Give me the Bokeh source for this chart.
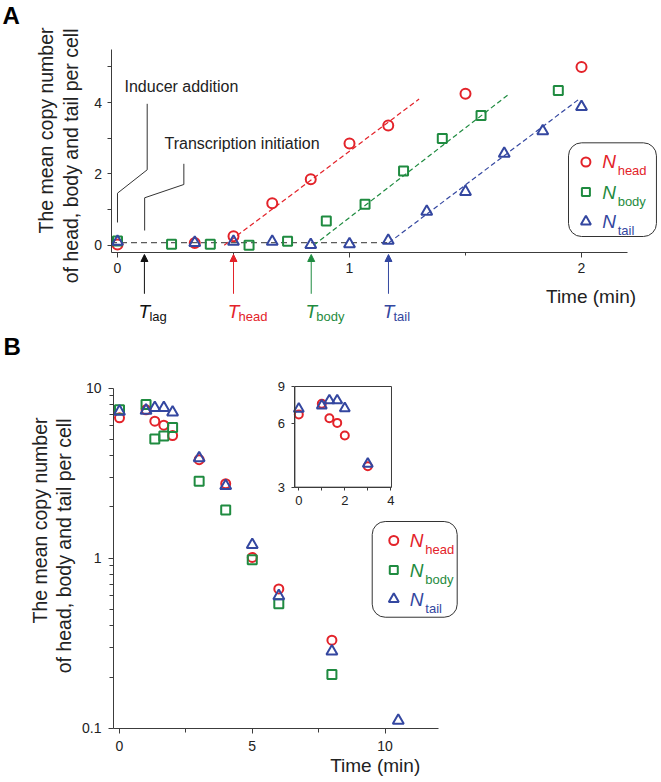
import math
from bokeh.plotting import figure
from bokeh.layouts import column
from bokeh.models import (Range1d, FixedTicker, Label, Arrow, NormalHead, BoxAnnotation,
                          LinearAxis, LogAxis, LogScale, PrintfTickFormatter)
from bokeh.embed import file_html
from bokeh.resources import INLINE

FONT = "Liberation Sans"
RED = "#E3232A"
GREEN = "#1F8B40"
BLUE = "#3447A0"
INK = "#222222"
AXC = "#3c3c3c"

# ---------------- Panel A data (time in min, mean copy number per cell) ----------------
a_t_head = [0.0, 0.333, 0.5, 0.667, 0.833, 1.0, 1.167, 1.5, 2.0]
a_head = [0.02, 0.06, 0.25, 1.18, 1.85, 2.85, 3.36, 4.25, 5.0]
a_t_body = [0.0, 0.233, 0.4, 0.567, 0.733, 0.9, 1.067, 1.233, 1.4, 1.567, 1.9]
a_body = [0.12, 0.03, 0.03, 0.0, 0.11, 0.68, 1.15, 2.08, 2.99, 3.64, 4.34]
a_t_tail = [0.0, 0.333, 0.5, 0.667, 0.833, 1.0, 1.167, 1.333, 1.5, 1.667, 1.833, 2.0]
a_tail = [0.1, 0.07, 0.1, 0.1, 0.01, 0.03, 0.13, 0.94, 1.5, 2.57, 3.2, 3.88]

a_baseline_t = [-0.028, 1.17]
a_baseline_v = [0.07, 0.07]
a_fit_head_t = [0.46, 1.30]
a_fit_head_v = [0.0, 4.1]
a_fit_body_t = [0.846, 1.69]
a_fit_body_v = [0.0, 4.25]
a_fit_tail_t = [1.17, 1.99]
a_fit_tail_v = [0.07, 4.1]

a_T_names = ["lag", "head", "body", "tail"]
a_T_values = [0.116, 0.5, 0.835, 1.168]

a_callout_inducer_t = [0.0, 0.0, 0.128, 0.128]
a_callout_inducer_v = [0.637, 1.459, 2.115, 3.966]
a_callout_tx_t = [0.117, 0.117, 0.286, 0.286]
a_callout_tx_v = [0.412, 1.33, 1.703, 2.283]

a_xticks = [0, 1, 2]
a_xminor = [0.5, 1.5]
a_yticks = [0, 2, 4]
a_yminor = [1, 3, 5]

# ---------------- Panel B data ----------------
b_t = [0, 1, 1.33, 1.67, 2, 3, 4, 5, 6, 8]
b_head = [6.68, 7.45, 6.38, 6.05, 5.26, 3.79, 2.74, 1.01, 0.66, 0.33]
b_body = [7.45, 8.0, 5.02, 5.22, 5.86, 2.83, 1.92, 0.98, 0.54, 0.207]
b_t_tail = [0, 1, 1.33, 1.67, 2, 3, 4, 5, 6, 8, 10.5]
b_tail = [7.28, 7.38, 7.65, 7.65, 7.2, 3.87, 2.66, 1.2, 0.60, 0.284, 0.111]

inset_t = [0, 1, 1.33, 1.67, 2, 3]
inset_head = [6.63, 7.45, 6.36, 6.05, 5.27, 3.77]
inset_tail = [7.05, 7.31, 7.73, 7.73, 7.1, 3.87]

b_xticks = [0, 5, 10]
b_xminor = [2.5, 7.5]
b_yticks = [0.1, 1, 10]
b_yminor = [0.2, 0.3, 0.4, 0.5, 0.6, 0.7, 0.8, 0.9, 2, 3, 4, 5, 6, 7, 8, 9]
inset_xticks = [0, 2, 4]
inset_xminor = [1, 3]
inset_yticks = [3, 6, 9]

SERIES = [("circle", RED, "head"), ("square", GREEN, "body"), ("triangle", BLUE, "tail")]


def style_axis(ax, size="14px", major_out=5, minor_out=3, standoff=5):
    ax.axis_line_color = AXC
    ax.axis_line_width = 1
    ax.major_tick_line_color = AXC
    ax.minor_tick_line_color = AXC
    ax.major_tick_in = 0
    ax.major_tick_out = major_out
    ax.minor_tick_in = 0
    ax.minor_tick_out = minor_out
    ax.major_label_text_font = FONT
    ax.major_label_text_font_size = size
    ax.major_label_text_color = INK
    ax.major_label_standoff = standoff


def text(p, x, y, s, size, color=INK, style="normal", align="left", baseline="middle",
         angle=0.0, xo=0, yo=0, **kw):
    p.add_layout(Label(x=x, y=y, text=s, text_font=FONT, text_font_size=size,
                       text_color=color, text_font_style=style, text_align=align,
                       text_baseline=baseline, angle=angle, x_offset=xo, y_offset=yo, **kw))


def rounded_box(p, left, right, bottom, top):
    kw = dict(left=left, right=right, bottom=bottom, top=top, fill_color=None,
              line_color="#333333", line_alpha=1.0, line_width=1)
    if "border_radius" in BoxAnnotation.properties():
        kw["border_radius"] = 13
    p.add_layout(BoxAnnotation(**kw))


def legend(p, box, mx, rows, tx, sizes):
    rounded_box(p, *box)
    for (marker, color, name), ry, sz in zip(SERIES, rows, sizes):
        p.scatter([mx], [ry], marker=marker, size=sz, line_color=color, line_width=2,
                  fill_color=None)
        text(p, tx, ry, "N", "19px", color=color, style="italic", yo=0)
        text(p, tx, ry, name, "13px", color=color, xo=15.5, yo=-9)


# =============================== Panel A ===============================
pA = figure(width=661, height=328, x_range=Range1d(-0.5043, 2.3448),
            y_range=Range1d(-2.3366, 6.864), output_backend="svg",
            toolbar_location=None, min_border=0)
pA.grid.visible = False
pA.outline_line_color = None
pA.background_fill_color = "white"

pA.xaxis.fixed_location = -0.2
pA.xaxis.bounds = (-0.028, 2.2)
pA.xaxis.ticker = FixedTicker(ticks=a_xticks, minor_ticks=a_xminor)
pA.yaxis.fixed_location = -0.028
pA.yaxis.bounds = (-0.2, 5.5)
pA.yaxis.ticker = FixedTicker(ticks=a_yticks, minor_ticks=a_yminor)
for ax in pA.xaxis:
    style_axis(ax, major_out=5, minor_out=3, standoff=6)
for ax in pA.yaxis:
    style_axis(ax, major_out=4, minor_out=4, standoff=5)

pA.line(a_baseline_t, a_baseline_v, line_color="#333333", line_dash="6 4", line_width=1)
pA.line(a_fit_head_t, a_fit_head_v, line_color=RED, line_dash="5 3", line_width=1.2)
pA.line(a_fit_body_t, a_fit_body_v, line_color=GREEN, line_dash="5 3", line_width=1.2)
pA.line(a_fit_tail_t, a_fit_tail_v, line_color=BLUE, line_dash="5 3", line_width=1.2)

pA.line(a_callout_inducer_t, a_callout_inducer_v, line_color="#333333", line_width=1)
pA.line(a_callout_tx_t, a_callout_tx_v, line_color="#333333", line_width=1)

pA.scatter(a_t_head, a_head, marker="circle", size=10, line_color=RED, line_width=2, fill_color=None)
pA.scatter(a_t_body, a_body, marker="square", size=9, line_color=GREEN, line_width=2, fill_color=None)
pA.scatter(a_t_tail, a_tail, marker="triangle", size=11, line_color=BLUE, line_width=2, fill_color=None)

text(pA, 0.0302, 4.457, "Inducer addition", "16px")
text(pA, 0.2026, 2.844, "Transcription initiation", "16px")

T_COLORS = ["#111111", RED, GREEN, BLUE]
for name, tv, c in zip(a_T_names, a_T_values, T_COLORS):
    pA.add_layout(Arrow(end=NormalHead(size=7, line_color=c, fill_color=c, line_width=1),
                        x_start=tv, y_start=-1.363, x_end=tv, y_end=-0.261,
                        line_color=c, line_width=1))
    text(pA, tv, -1.857, "T", "19px", color=c, style="italic", align="center")
    text(pA, tv, -1.857, name, "13px", color=c, xo=5, yo=-5)

text(pA, 2.041, -1.43, "Time (min)", "19px", align="center")
text(pA, -0.308, 6.107, "The mean copy number", "19.5px", align="right", angle=math.pi / 2)
text(pA, -0.2004, 6.079, "of head, body and tail per cell", "19.5px", align="right",
     angle=math.pi / 2)
text(pA, -0.4957, 6.808, "A", "24px", style="bold", baseline="top", color="#000000")

legend(pA, (1.944, 2.323, 0.244, 2.872), 2.019, [2.334, 1.492, 0.665], 2.089, [9, 8, 10])

# =============================== Panel B ===============================
pB = figure(width=661, height=453, x_range=Range1d(-4.482, 20.414),
            y_range=Range1d(0.04875, 22.37), y_axis_type="log", output_backend="svg",
            toolbar_location=None, min_border=0)
pB.grid.visible = False
pB.outline_line_color = None
pB.background_fill_color = "white"

pB.xaxis.fixed_location = 0.1
pB.xaxis.bounds = (-0.226, 12)
pB.xaxis.ticker = FixedTicker(ticks=b_xticks, minor_ticks=b_xminor)
pB.yaxis.fixed_location = -0.226
pB.yaxis.bounds = (0.1, 10)
pB.yaxis.ticker = FixedTicker(ticks=b_yticks, minor_ticks=b_yminor)
pB.yaxis.formatter = PrintfTickFormatter(format="%g")
for ax in pB.xaxis:
    style_axis(ax, major_out=5, minor_out=4, standoff=8)
for ax in pB.yaxis:
    style_axis(ax, major_out=5, minor_out=4, standoff=7)

pB.scatter(b_t, b_head, marker="circle", size=9, line_color=RED, line_width=2, fill_color=None)
pB.scatter(b_t, b_body, marker="square", size=9, line_color=GREEN, line_width=2, fill_color=None)
pB.scatter(b_t_tail, b_tail, marker="triangle", size=11, line_color=BLUE, line_width=2, fill_color=None)

text(pB, 9.631, 0.0605, "Time (min)", "19px", align="center")
text(pB, -3.013, 6.71, "The mean copy number", "19.5px", align="right", angle=math.pi / 2)
text(pB, -2.109, 6.62, "of head, body and tail per cell", "19.5px", align="right",
     angle=math.pi / 2)
text(pB, -4.369, 21.19, "B", "24px", style="bold", baseline="top", color="#000000")

legend(pB, (9.518, 12.719, 0.45, 1.643), 10.331, [1.2706, 0.8524, 0.5757], 10.934, [9, 8, 10])

# ---- inset (log y) on its own named ranges ----
pB.extra_x_ranges = {"ix": Range1d(-12.970, 15.770)}
pB.extra_y_ranges = {"iy": Range1d(0.12085, 16.95)}
pB.extra_y_scales = {"iy": LogScale()}

ixa = LinearAxis(x_range_name="ix", y_range_name="iy", fixed_location=3,
                 bounds=(-0.17, 4.03), ticker=FixedTicker(ticks=inset_xticks, minor_ticks=inset_xminor))
style_axis(ixa, size="13px", major_out=3, minor_out=3, standoff=6)
pB.add_layout(ixa, "below")
iya = LogAxis(x_range_name="ix", y_range_name="iy", fixed_location=-0.17, bounds=(3, 9),
              ticker=FixedTicker(ticks=inset_yticks, minor_ticks=[]),
              formatter=PrintfTickFormatter(format="%g"))
style_axis(iya, size="13px", major_out=3, minor_out=0, standoff=7)
pB.add_layout(iya, "left")
pB.add_layout(BoxAnnotation(left=-0.17, right=4.03, bottom=3, top=9, x_range_name="ix",
                            y_range_name="iy", fill_color=None, line_color=AXC,
                            line_alpha=1.0, line_width=1))

pB.scatter(inset_t, inset_head, marker="circle", size=8, line_color=RED, line_width=2,
           fill_color=None, x_range_name="ix", y_range_name="iy")
pB.scatter(inset_t, inset_tail, marker="triangle", size=10, line_color=BLUE, line_width=2,
           fill_color=None, x_range_name="ix", y_range_name="iy")

layout = column(pA, pB)
open("out.html", "w").write(file_html(layout, INLINE))
